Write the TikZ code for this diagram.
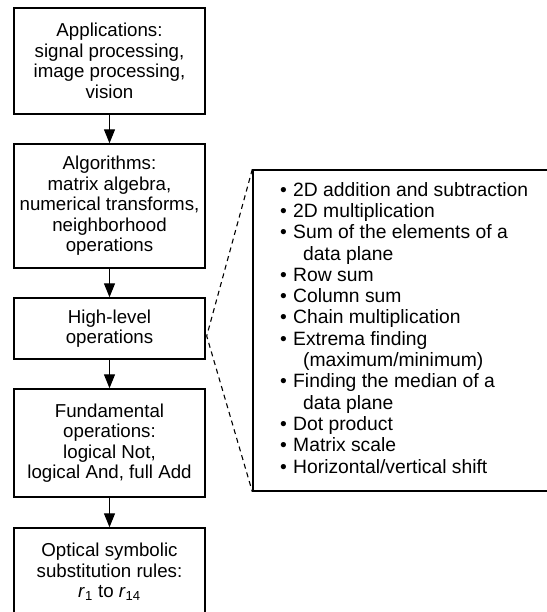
\documentclass[tikz,border=0pt]{standalone}
\usepackage{fontspec}
\setmainfont{Liberation Sans}
\usetikzlibrary{arrows.meta}
% bullet with a fixed-width slot, and the indent of a continued item
\newcommand\bul{\makebox[13pt][l]{\textbullet}}
\newcommand\cont{\hspace*{23pt}}

\begin{document}
\begin{tikzpicture}[x=1pt,y=-1pt,
  level/.style={draw, line width=1.4pt, minimum width=191pt, inner sep=0pt,
    align=center, font=\fontsize{18.7}{20.5}\selectfont},
  flow/.style={line width=1.2pt, -{Triangle[length=14pt,width=11pt]}},
  zoomline/.style={line width=1.1pt, dash pattern=on 5pt off 4pt},
  panel/.style={draw, line width=1.4pt, inner sep=0pt},
  oplist/.style={inner sep=0pt, align=left, font=\fontsize{19.3}{21.3}\selectfont}]
\useasboundingbox (0,0) rectangle (546,612);

% the hierarchy of levels
\node[level, minimum height=106pt] (app) at (109.5,61)
  {Applications:\\signal processing,\\image processing,\\vision};
\node[level, minimum height=124pt] (alg) at (109.5,206)
  {Algorithms:\\matrix algebra,\\numerical transforms,\\neighborhood\\operations};
\node[level, minimum height=61pt] (hl) at (109.5,328.5)
  {High-level\\operations};
\node[level, minimum height=108pt] (fund) at (109.5,443)
  {Fundamental\\operations:\\logical Not,\\logical And, full Add};
\node[level, minimum height=88pt] (oss) at (109.5,572)
  {Optical symbolic\\substitution rules:\\\textit{r}\textsubscript{1} to \textit{r}\textsubscript{14}};

\draw[flow] (app.south) -- (alg.north);
\draw[flow] (alg.south) -- (hl.north);
\draw[flow] (hl.south) -- (fund.north);
\draw[flow] (fund.south) -- (oss.north);

% expanded list of the high-level operations
\node[panel, minimum width=307pt, minimum height=321pt] (ops) at (406.5,330.5) {};
\node[oplist, anchor=north west] (items) at (280,182)
  {\bul 2D addition and subtraction\\
   \bul 2D multiplication\\
   \bul Sum of the elements of a\\
   \cont data plane\\
   \bul Row sum\\
   \bul Column sum\\
   \bul Chain multiplication\\
   \bul Extrema finding\\
   \cont(maximum/minimum)\\
   \bul Finding the median of a\\
   \cont data plane\\
   \bul Dot product\\
   \bul Matrix scale\\
   \bul Horizontal/vertical shift};

\coordinate (apex) at ([shift={(1,7.5)}]hl.east);
\draw[zoomline] (ops.north west) -- (apex) -- (ops.south west);
\end{tikzpicture}
\end{document}
